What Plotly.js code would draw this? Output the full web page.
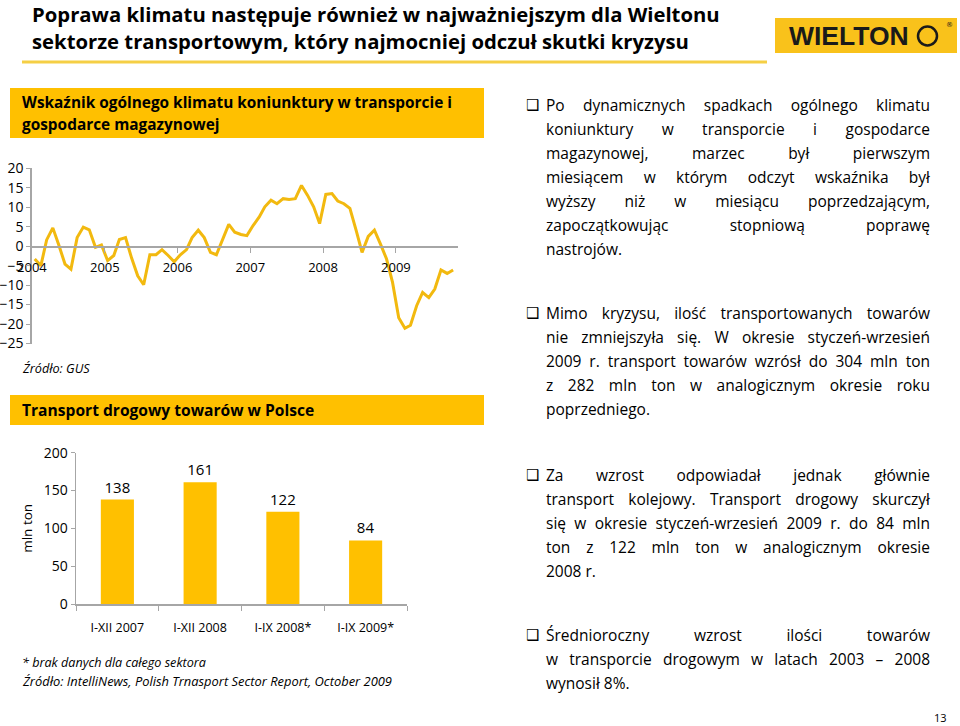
<!DOCTYPE html>
<html>
<head>
<meta charset="utf-8">
<script src="https://cdn.plot.ly/plotly-3.0.1.min.js"></script>
<style>
  html, body { margin: 0; padding: 0; background: #fff; overflow: hidden; }
  #chart { position: absolute; left: 0; top: 0; width: 960px; height: 726px; }
  .para { position: absolute; left: 546px; width: 384px; font-family: "Open Sans", sans-serif;
          font-size: 15.5px; line-height: 24px; color: #000; }
  .para .ln { white-space: nowrap; text-align: justify; text-align-last: justify; height: 24px; }
  .para .ln.last { text-align-last: left; }
  .bullet { position: absolute; left: 526px; font-family: "DejaVu Sans", sans-serif; font-size: 15px;
            line-height: 24px; color: #000; }
  .pagenum { position: absolute; left: 934px; top: 710px; font-family: "Open Sans", sans-serif; font-size: 11px; color: #000; }
</style>
</head>
<body>
<div id="chart"></div>
<div id="texts"></div>
<div class="pagenum">13</div>
<script>
// ---------------- DATA ----------------
// Wskaźnik ogólnego klimatu koniunktury (monthly, Jan 2004 – Oct 2009)
const climate2004 = [-3.3, -5.0, 1.6, 4.7, 0.3, -4.6, -5.9, 2.2, 4.9, 4.2, -0.3, 0.3];
const climate2005 = [-3.7, -2.4, 1.7, 2.2, -3.0, -7.6, -9.9, -2.2, -2.2, -0.9, -2.4, -4.0];
const climate2006 = [-2.2, -0.9, 2.2, 4.1, 2.2, -1.6, -2.2, 1.5, 5.6, 3.6, 3.0, 2.7];
const climate2007 = [5.3, 7.5, 10.1, 11.8, 10.9, 12.2, 12.0, 12.2, 15.6, 13.1, 10.1, 5.8];
const climate2008 = [13.3, 13.5, 11.6, 10.9, 9.7, 4.1, -1.6, 2.5, 4.1, 0.6, -3.3, -9.3];
const climate2009 = [-18.4, -21.1, -20.3, -15.3, -11.9, -13.2, -11.0, -6.1, -7.0, -6.1];
const climateYears = [2004, 2005, 2006, 2007, 2008, 2009];
const climateYTicks = [20, 15, 10, 5, 0, -5, -10, -15, -20, -25];

// Transport drogowy towarów w Polsce (mln ton)
const barCategories = ["I-XII 2007", "I-XII 2008", "I-IX 2008*", "I-IX 2009*"];
const barValues = [138, 161, 122, 84];
const barYTicks = [0, 50, 100, 150, 200];

// ---------------- BUILD SERIES ----------------
const climateByYear = [climate2004, climate2005, climate2006, climate2007, climate2008, climate2009];
const lineX = [], lineY = [];
climateByYear.forEach((arr, yi) => {
  arr.forEach((v, mi) => {
    const mm = String(mi + 1).padStart(2, "0");
    lineX.push(climateYears[yi] + "-" + mm + "-15");
    lineY.push(v);
  });
});

// helpers: pixel -> paper
const W = 960, H = 726;
const px = x => x / W;
const py = y => 1 - y / H;

const FONT = "Open Sans, sans-serif";
const YELLOW = "#FFC000";
const LINE = "#F2B90F";
const AXIS = "#A6A6A6";

// Line chart geometry
const lcTop = 168.3, lcBot = 343.5, lcLeft = 31.7, lcRight = 457.9;
const yMin = -25, yMax = 20;
const zeroFrac = py(lcBot) + (py(lcTop) - py(lcBot)) * ((0 - yMin) / (yMax - yMin));

const traces = [
  {
    x: lineX, y: lineY, type: "scatter", mode: "lines",
    line: { color: LINE, width: 3 },
    xaxis: "x", yaxis: "y", hoverinfo: "skip", showlegend: false
  },
  {
    x: barCategories, y: barValues, type: "bar",
    marker: { color: YELLOW },
    text: barValues.map(String), textposition: "outside",
    textfont: { family: FONT, size: 15, color: "#000" },
    cliponaxis: false,
    xaxis: "x2", yaxis: "y2", hoverinfo: "skip", showlegend: false
  }
];

const layout = {
  width: W, height: H,
  margin: { l: 0, r: 0, t: 0, b: 0 },
  paper_bgcolor: "#fff", plot_bgcolor: "rgba(0,0,0,0)",
  showlegend: false,
  bargap: 0.6,
  font: { family: FONT, color: "#000" },
  xaxis: {
    type: "date",
    domain: [px(lcLeft), px(lcRight)],
    range: ["2003-12-31", "2009-11-08"],
    anchor: "free", position: zeroFrac,
    tickvals: climateYears.map(y => y + "-01-01"),
    ticktext: climateYears.map(String),
    ticks: "outside", ticklen: 5, tickcolor: AXIS, tickwidth: 1,
    showline: true, linecolor: AXIS, linewidth: 1.5,
    showgrid: false, zeroline: false,
    tickfont: { family: FONT, size: 13, color: "#000" },
    ticklabelstandoff: 4
  },
  yaxis: {
    domain: [py(lcBot), py(lcTop)],
    range: [yMin, yMax],
    tickvals: climateYTicks,
    ticks: "outside", ticklen: 4, tickcolor: AXIS,
    showline: true, linecolor: AXIS, linewidth: 1.5,
    showgrid: false, zeroline: false,
    tickfont: { family: FONT, size: 14, color: "#000" },
    anchor: "x"
  },
  xaxis2: {
    domain: [px(76), px(407)],
    type: "category",
    ticks: "outside", tickson: "boundaries", ticklen: 5, tickcolor: AXIS,
    showline: true, linecolor: AXIS, linewidth: 1.5,
    showgrid: false, zeroline: false,
    tickfont: { family: FONT, size: 12.5, color: "#000" },
    ticklabelstandoff: 11,
    anchor: "y2"
  },
  yaxis2: {
    domain: [py(604), py(452.7)],
    range: [0, 200],
    tickvals: barYTicks,
    ticks: "outside", ticklen: 4, tickcolor: AXIS,
    showline: true, linecolor: AXIS, linewidth: 1.5,
    showgrid: false, zeroline: false,
    tickfont: { family: FONT, size: 14, color: "#000" },
    title: { text: "mln ton", font: { family: FONT, size: 13.5, color: "#000" }, standoff: 8 },
    anchor: "x2"
  },
  shapes: [
    // yellow rule under slide title
    { type: "line", xref: "paper", yref: "paper", x0: px(22), x1: px(767), y0: py(62), y1: py(62),
      line: { color: "#F5CF45", width: 3 } },
    // logo box
    { type: "rect", xref: "paper", yref: "paper", x0: px(775), x1: px(957), y0: py(53), y1: py(18),
      fillcolor: "#F9C21B", line: { width: 0 } },
    // logo emblem circle
    { type: "circle", xref: "paper", yref: "paper", x0: px(918), x1: px(937), y0: py(45.5), y1: py(26.5),
      fillcolor: "#F9C21B", line: { color: "#1a1a1a", width: 2.5 } },
    // header boxes
    { type: "rect", xref: "paper", yref: "paper", x0: px(10), x1: px(484), y0: py(138), y1: py(88),
      fillcolor: YELLOW, line: { width: 0 }, layer: "below" },
    { type: "rect", xref: "paper", yref: "paper", x0: px(10), x1: px(484), y0: py(425), y1: py(395),
      fillcolor: YELLOW, line: { width: 0 }, layer: "below" }
  ],
  annotations: [
    { text: "Poprawa klimatu następuje również w najważniejszym dla Wieltonu", x: px(30), y: py(14),
      xref: "paper", yref: "paper", xanchor: "left", yanchor: "middle", showarrow: false,
      font: { family: FONT, size: 20.3, weight: "bold", color: "#000" } },
    { text: "sektorze transportowym, który najmocniej odczuł skutki kryzysu", x: px(30), y: py(41),
      xref: "paper", yref: "paper", xanchor: "left", yanchor: "middle", showarrow: false,
      font: { family: FONT, size: 20.3, weight: "bold", color: "#000" } },
    { text: "WIELTON", x: px(787), y: py(36), xref: "paper", yref: "paper", xanchor: "left", yanchor: "middle",
      showarrow: false, font: { family: "Liberation Sans, Arial, sans-serif", size: 26.5, weight: "bold", color: "#1a1a1a" } },
    { text: "®", x: px(944), y: py(25), xref: "paper", yref: "paper", xanchor: "left", yanchor: "middle",
      showarrow: false, font: { family: "DejaVu Sans, sans-serif", size: 7, color: "#1a1a1a" } },
    { text: "Wskaźnik ogólnego klimatu koniunktury w transporcie i", x: px(20), y: py(102.5),
      xref: "paper", yref: "paper", xanchor: "left", yanchor: "middle", showarrow: false,
      font: { family: FONT, size: 15.4, weight: "bold", color: "#000" } },
    { text: "gospodarce magazynowej", x: px(20), y: py(124.5),
      xref: "paper", yref: "paper", xanchor: "left", yanchor: "middle", showarrow: false,
      font: { family: FONT, size: 15.4, weight: "bold", color: "#000" } },
    { text: "<i>Źródło: GUS</i>", x: px(20), y: py(368),
      xref: "paper", yref: "paper", xanchor: "left", yanchor: "middle", showarrow: false,
      font: { family: FONT, size: 12.7, color: "#000" } },
    { text: "Transport drogowy towarów w Polsce", x: px(20), y: py(410),
      xref: "paper", yref: "paper", xanchor: "left", yanchor: "middle", showarrow: false,
      font: { family: FONT, size: 15.6, weight: "bold", color: "#000" } },
    { text: "<i>* brak danych dla całego sektora</i>", x: px(20), y: py(662.5),
      xref: "paper", yref: "paper", xanchor: "left", yanchor: "middle", showarrow: false,
      font: { family: FONT, size: 12.6, color: "#000" } },
    { text: "<i>Źródło: IntelliNews, Polish Trnasport Sector Report, October 2009</i>", x: px(20), y: py(680.5),
      xref: "paper", yref: "paper", xanchor: "left", yanchor: "middle", showarrow: false,
      font: { family: FONT, size: 12.9, color: "#000" } }
  ]
};

Plotly.newPlot("chart", traces, layout, { staticPlot: true, displayModeBar: false });

// ---------------- RIGHT-HAND TEXT ----------------
const paragraphs = [
  { top: 93, lines: [
    "Po dynamicznych spadkach ogólnego klimatu",
    "koniunktury w transporcie i gospodarce",
    "magazynowej, marzec był pierwszym",
    "miesiącem w którym odczyt wskaźnika był",
    "wyższy niż w miesiącu poprzedzającym,",
    "zapoczątkowując stopniową poprawę",
    "nastrojów."] },
  { top: 301, lines: [
    "Mimo kryzysu, ilość transportowanych towarów",
    "nie zmniejszyła się. W okresie styczeń-wrzesień",
    "2009 r. transport towarów wzrósł do 304 mln ton",
    "z 282 mln ton w analogicznym okresie roku",
    "poprzedniego."] },
  { top: 463, lines: [
    "Za wzrost odpowiadał jednak głównie",
    "transport kolejowy. Transport drogowy skurczył",
    "się w okresie styczeń-wrzesień 2009 r. do 84 mln",
    "ton z 122 mln ton w analogicznym okresie",
    "2008 r."] },
  { top: 623, lines: [
    "Średnioroczny wzrost ilości towarów",
    "w transporcie drogowym w latach 2003 – 2008",
    "wynosił 8%."] }
];
const host = document.getElementById("texts");
paragraphs.forEach(p => {
  const b = document.createElement("div");
  b.className = "bullet"; b.style.top = p.top + "px"; b.textContent = "❑";
  host.appendChild(b);
  const d = document.createElement("div");
  d.className = "para"; d.style.top = p.top + "px";
  p.lines.forEach((t, i) => {
    const l = document.createElement("div");
    l.className = "ln" + (i === p.lines.length - 1 ? " last" : "");
    l.textContent = t;
    d.appendChild(l);
  });
  host.appendChild(d);
});
</script>
</body>
</html>
